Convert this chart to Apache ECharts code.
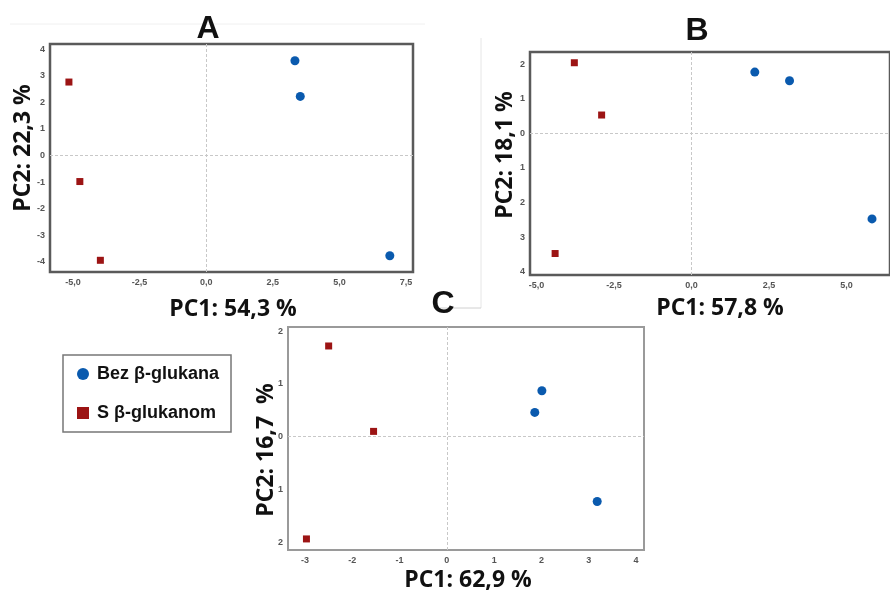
<!DOCTYPE html>
<html>
<head>
<meta charset="utf-8">
<script src="https://cdn.jsdelivr.net/npm/echarts@6/dist/echarts.min.js"></script>
<style>
  html, body { margin: 0; padding: 0; background: #fff; }
  #main { width: 890px; height: 592px; }
</style>
</head>
<body>
<div id="main"></div>
<script>
// group names
var seriesNames = ['Bez β-glukana', 'S β-glukanom'];

// panel A (PC1 54,3 % / PC2 22,3 %)
var aBez = [[3.33, 3.56], [3.53, 2.22], [6.89, -3.77]];
var aS = [[-5.15, 2.76], [-4.74, -0.98], [-3.97, -3.94]];
var aXTicks = [-5, -2.5, 0, 2.5, 5, 7.5];
var aYTicks = [-4, -3, -2, -1, 0, 1, 2, 3, 4];

// panel B (PC1 57,8 % / PC2 18,1 %)
var bBez = [[2.04, 1.77], [3.16, 1.52], [5.82, -2.47]];
var bS = [[-3.78, 2.04], [-2.90, 0.53], [-4.40, -3.47]];
var bXTicks = [-5, -2.5, 0, 2.5, 5];
var bYTicks = [-4, -3, -2, -1, 0, 1, 2];

// panel C (PC1 62,9 % / PC2 16,7 %)
var cBez = [[2.01, 0.87], [1.86, 0.46], [3.18, -1.23]];
var cS = [[-2.50, 1.72], [-1.55, 0.10], [-2.97, -1.94]];
var cXTicks = [-3, -2, -1, 0, 1, 2, 3, 4];
var cYTicks = [-2, -1, 0, 1, 2];

var blue = '#0a5aae';
var red = '#9c1414';

var chart = echarts.init(document.getElementById('main'));

var tickFont = { fontSize: 9, fontWeight: 'bold', color: '#555', fontFamily: 'Liberation Sans' };

function fmtComma(v) { return v.toFixed(1).replace('.', ','); }
function fmtInt(v) { return String(Math.round(v)); }
function fmtAbs(v) { return String(Math.abs(Math.round(v))); }

function makeX(idx, min, max, ticks, fmt) {
  return {
    type: 'value', gridIndex: idx, min: min, max: max,
    splitLine: { show: false },
    axisLine: { show: false },
    axisTick: { show: false, customValues: ticks },
    axisLabel: Object.assign({ customValues: ticks, formatter: fmt, margin: 6 }, tickFont)
  };
}
function makeY(idx, min, max, ticks, fmt) {
  return {
    type: 'value', gridIndex: idx, min: min, max: max,
    splitLine: { show: false },
    axisLine: { show: false },
    axisTick: { show: false, customValues: ticks },
    axisLabel: Object.assign({ customValues: ticks, formatter: fmt, margin: 5 }, tickFont)
  };
}

// dashed zero lines
var zeroLines = {
  silent: true,
  symbol: 'none',
  label: { show: false },
  lineStyle: { color: '#c8c8c8', type: [3, 2], width: 1 },
  data: [{ xAxis: 0 }, { yAxis: 0 }]
};

function bez(idx, data) {
  return {
    name: seriesNames[0], type: 'scatter', xAxisIndex: idx, yAxisIndex: idx,
    symbol: 'circle', symbolSize: 9, itemStyle: { color: blue, opacity: 1 }, data: data,
    markLine: zeroLines, z: 3
  };
}
function sGroup(idx, data) {
  return {
    name: seriesNames[1], type: 'scatter', xAxisIndex: idx, yAxisIndex: idx,
    symbol: 'rect', symbolSize: 7, itemStyle: { color: red, opacity: 1 }, data: data, z: 3
  };
}

var titleFont = { fontSize: 32, fontWeight: 'bold', fontFamily: 'Liberation Sans', fill: '#111' };
var nameFont = { fontSize: 23, fontWeight: 'bold', fontFamily: 'Open Sans', fill: '#111' };

function label(x, y, text, font, rot) {
  return {
    type: 'text', x: x, y: y, rotation: rot || 0,
    style: Object.assign({ text: text, align: 'center', verticalAlign: 'middle' }, font),
    z: 10
  };
}

chart.setOption({
  backgroundColor: '#fff',
  animation: false,
  grid: [
    { left: 50, top: 44, width: 363, height: 228, show: true, borderColor: '#5a5a5a', borderWidth: 2.5, backgroundColor: '#fff' },
    { left: 530, top: 52, width: 390, height: 223, show: true, borderColor: '#5a5a5a', borderWidth: 2.5, backgroundColor: '#fff' },
    { left: 288, top: 327, width: 356, height: 223, show: true, borderColor: '#9a9a9a', borderWidth: 2, backgroundColor: '#fff' }
  ],
  xAxis: [
    makeX(0, -5.86, 7.76, aXTicks, fmtComma),
    makeX(1, -5.21, 6.4, bXTicks, fmtComma),
    makeX(2, -3.36, 4.17, cXTicks, fmtInt)
  ],
  yAxis: [
    makeY(0, -4.38, 4.19, aYTicks, fmtInt),
    makeY(1, -4.09, 2.35, bYTicks, fmtAbs),
    makeY(2, -2.15, 2.08, cYTicks, fmtAbs)
  ],
  legend: {
    orient: 'vertical',
    left: 63, top: 355,
    padding: [10, 12, 10, 14],
    itemGap: 21,
    itemWidth: 12, itemHeight: 12,
    borderColor: '#777', borderWidth: 1.5,
    backgroundColor: '#fff',
    textStyle: { fontSize: 18, fontWeight: 'bold', fontFamily: 'Liberation Sans', color: '#111', padding: [0, 0, 0, 3] },
    data: [
      { name: seriesNames[0], icon: 'circle', itemStyle: { opacity: 1 } },
      { name: seriesNames[1], icon: 'rect', itemStyle: { opacity: 1 } }
    ]
  },
  series: [
    bez(0, aBez), sGroup(0, aS),
    bez(1, bBez), sGroup(1, bS),
    bez(2, cBez), sGroup(2, cS)
  ],
  graphic: [
    // faint panel edges
    { type: 'line', shape: { x1: 481, y1: 38, x2: 481, y2: 308 }, style: { stroke: '#e6e6e6', lineWidth: 1 }, z: 0 },
    { type: 'line', shape: { x1: 440, y1: 308, x2: 481, y2: 308 }, style: { stroke: '#d0d0d0', lineWidth: 1 }, z: 0 },
    { type: 'line', shape: { x1: 10, y1: 24, x2: 425, y2: 24 }, style: { stroke: '#f0f0f0', lineWidth: 1 }, z: 0 },
    label(208, 29, 'A', titleFont),
    label(697, 31, 'B', titleFont),
    label(443, 304, 'C', titleFont),
    label(233, 309, 'PC1: 54,3 %', nameFont),
    label(720, 308, 'PC1: 57,8 %', nameFont),
    label(468, 580, 'PC1: 62,9 %', nameFont),
    label(23, 148, 'PC2: 22,3 %', nameFont, Math.PI / 2),
    label(505, 155, 'PC2: 18,1 %', nameFont, Math.PI / 2),
    label(266, 450, 'PC2: 16,7  %', nameFont, Math.PI / 2)
  ]
});
</script>
</body>
</html>
